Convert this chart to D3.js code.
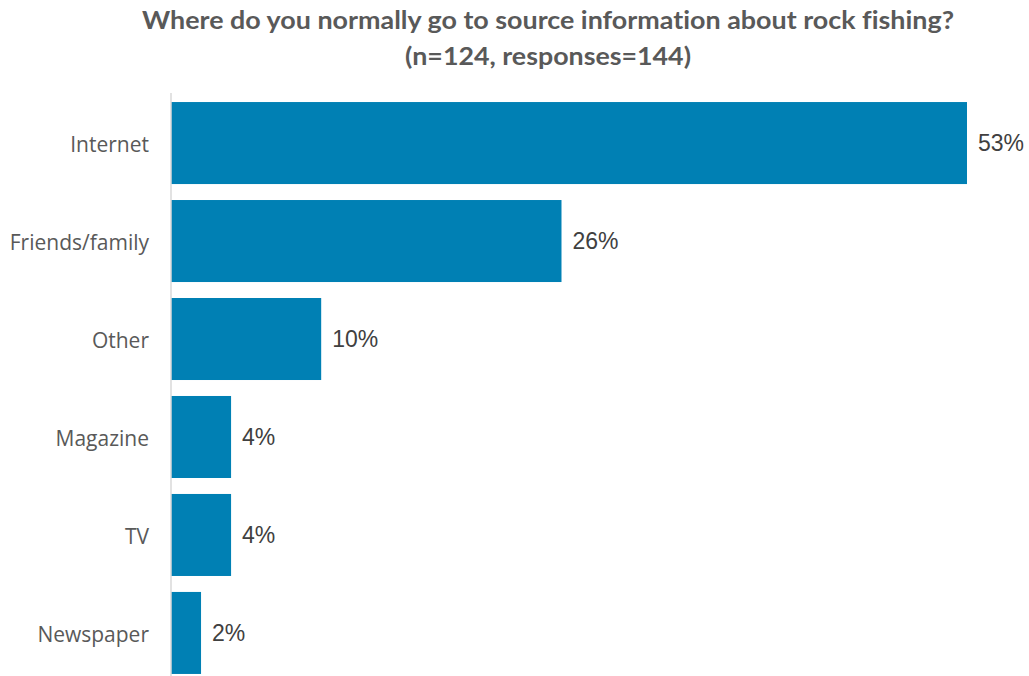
<!DOCTYPE html>
<html>
<head>
<meta charset="utf-8">
<script src="https://cdn.jsdelivr.net/npm/d3@7"></script>
<style>
  html, body { margin: 0; padding: 0; background: #fff; }
  svg { display: block; }
  text { font-variant-ligatures: none; }
</style>
</head>
<body>
<svg id="chart" width="1029" height="676"></svg>
<script>
// Survey responses: where anglers look for rock fishing information
const categories = ["Internet", "Friends/family", "Other", "Magazine", "TV", "Newspaper"];
const values = [53, 26, 10, 4, 4, 2];
const titleLines = ["Where do you normally go to source information about rock fishing?", "(n=124, responses=144)"];

const W = 1029, H = 676;
const plotLeft = 171, plotTop = 93;

const svg = d3.select("#chart");

const x = d3.scaleLinear()
  .domain([0, 53])
  .range([plotLeft, plotLeft + 796]);

const y = d3.scaleBand()
  .domain(categories)
  .range([94.2, 681.8])
  .paddingInner(0.163)
  .paddingOuter(0.08);

// Title, two centred lines
const titleWidths = [812, 286];
svg.append("g")
  .selectAll("text")
  .data(titleLines)
  .join("text")
  .attr("x", 548)
  .attr("y", (d, i) => 29 + i * 36)
  .attr("text-anchor", "middle")
  .attr("font-family", "Lato, 'Open Sans', sans-serif")
  .attr("font-weight", "bold")
  .attr("font-size", 25)
  .attr("fill", "#595959")
  .attr("textLength", (d, i) => titleWidths[i])
  .attr("lengthAdjust", "spacingAndGlyphs")
  .text(d => d);

// Bars
svg.append("g")
  .selectAll("rect")
  .data(categories)
  .join("rect")
  .attr("x", x(0))
  .attr("y", d => y(d))
  .attr("width", (d, i) => x(values[i]) - x(0))
  .attr("height", y.bandwidth())
  .attr("fill", "#0080b4");

// Category axis
const yAxis = d3.axisLeft(y).tickSize(0).tickPadding(22);
const gy = svg.append("g")
  .attr("transform", `translate(${plotLeft},0)`)
  .call(yAxis);
gy.select(".domain")
  .attr("d", `M0,${plotTop}V${H}`)
  .attr("stroke", "#d9d9d9")
  .attr("stroke-width", 1.5);
gy.selectAll(".tick text")
  .attr("font-family", "'Open Sans', Lato, sans-serif")
  .attr("font-size", 21)
  .attr("dy", "0.42em")
  .attr("fill", "#595959");

// Value labels
svg.append("g")
  .selectAll("text")
  .data(categories)
  .join("text")
  .attr("x", (d, i) => x(values[i]) + 11)
  .attr("y", d => y(d) + y.bandwidth() / 2)
  .attr("dy", "0.36em")
  .attr("font-family", "'Liberation Sans', Arial, sans-serif")
  .attr("font-size", 23)
  .attr("fill", "#404040")
  .text((d, i) => values[i] + "%");
</script>
</body>
</html>
